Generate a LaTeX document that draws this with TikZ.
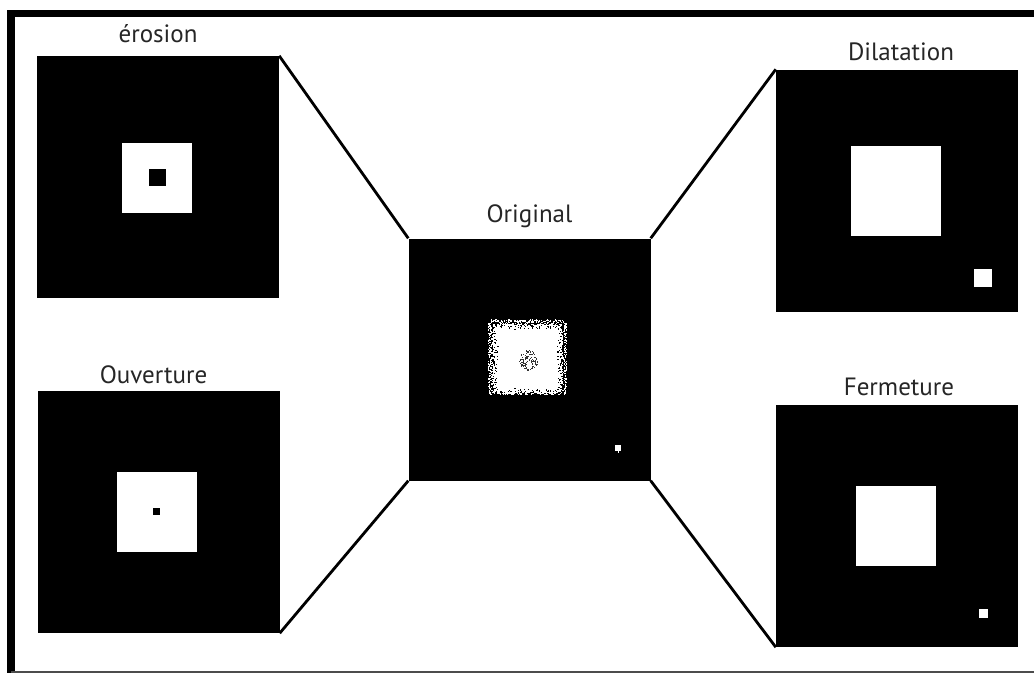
\documentclass[tikz,border=0pt]{standalone}
\usepackage{fontspec}
\setmainfont{PT Sans}
\usetikzlibrary{positioning, calc}

\begin{document}
\begin{tikzpicture}[
    x=1pt, y=-1pt,
    imgbox/.style={rectangle, fill=black, inner sep=0pt, minimum size=242pt},
    whitebox/.style={rectangle, fill=white, inner sep=0pt},
    blackbox/.style={rectangle, fill=black, inner sep=0pt},
    lbl/.style={inner sep=0pt, font=\fontsize{25}{30}\selectfont, text=black!85},
    link/.style={line width=2.8pt, black}
]
\useasboundingbox (0,0) rectangle (1034,673);
% frame
\draw[line width=7.5pt] (1034,13.5) -| (11,673);
\draw[black!70, line width=1.5pt] (11,672) -- (1034,672);

% images
\node[imgbox] (orig) at (529.5,359.5) {};
\node[imgbox] (ero) at (158,177) {};
\node[imgbox] (ouv) at (158.5,512) {};
\node[imgbox] (dil) at (897,190.5) {};
\node[imgbox] (fer) at (897,526) {};

% titles
\node[lbl, above=16pt of orig, anchor=base] (origT) {Original};
\node[lbl, above=13pt of ero, anchor=base] (eroT) {érosion};
\node[lbl, above=7pt of ouv, anchor=base, xshift=-5pt] (ouvT) {Ouverture};
\node[lbl, above=9pt of dil, anchor=base, xshift=4pt] (dilT) {Dilatation};
\node[lbl, above=9pt of fer, anchor=base, xshift=2pt] (ferT) {Fermeture};

% links
\draw[link] (ero.north east) -- (orig.north west);
\draw[link] (ouv.south east) -- (orig.south west);
\draw[link] (orig.north east) -- (dil.north west);
\draw[link] (orig.south east) -- (fer.south west);

% erosion
\node[whitebox, minimum size=70pt] (eroW) at (157,177.5) {};
\node[blackbox, minimum size=17pt] (eroB) at (eroW) {};
% ouverture
\node[whitebox, minimum size=80pt] (ouvW) at (157,512) {};
\node[blackbox, minimum size=7pt] (ouvB) at (156.5,511.5) {};
% dilatation
\node[whitebox, minimum size=90pt] (dilW) at (896,191) {};
\node[whitebox, minimum size=18pt] (dilS) at (983,278) {};
% fermeture
\node[whitebox, minimum size=80pt] (ferW) at (896,525.5) {};
\node[whitebox, minimum size=9pt] (ferS) at (983.5,613.5) {};

% original (noisy)
\pgfmathsetseed{42}
\node[whitebox, minimum size=72pt] (noisy) at (527,358.5) {};
\foreach \i in {1,...,140}{
  \pgfmathsetmacro{\u}{72*rnd}
  \pgfmathsetmacro{\v}{8*rnd*rnd}
  \pgfmathsetmacro{\w}{3*rnd}
  \fill[black] ($(noisy.north west)+(\u,\v)$) rectangle ++(1.2,1.2);
  \fill[black] ($(noisy.south west)+(\u,-\v)$) rectangle ++(1.2,1.2);
  \fill[black] ($(noisy.north west)+(\v,\u)$) rectangle ++(1.2,1.2);
  \fill[black] ($(noisy.north east)+(-\v,\u)$) rectangle ++(1.2,1.2);
  \fill[white] ($(noisy.north west)+(-\w,\u)$) rectangle ++(1.1,1.1);
  \fill[white] ($(noisy.north east)+(\w,\u)$) rectangle ++(1.1,1.1);
  \fill[white] ($(noisy.north west)+(\u,-\w)$) rectangle ++(1.1,1.1);
}
\foreach \i in {1,...,110}{
  \pgfmathsetmacro{\r}{10*sqrt(rnd)}
  \pgfmathsetmacro{\a}{360*rnd}
  \fill[black!80] ($(noisy.center)+(1,1.5)+(\a:\r)$) rectangle ++(1.1,1.1);
}
\node[whitebox, minimum size=6pt] (speck) at (618,448) {};
\foreach \i in {1,...,12}{
  \fill[white] ($(speck)+(4*rand,4*rand)$) rectangle ++(1.2,1.2);
}
\end{tikzpicture}
\end{document}
